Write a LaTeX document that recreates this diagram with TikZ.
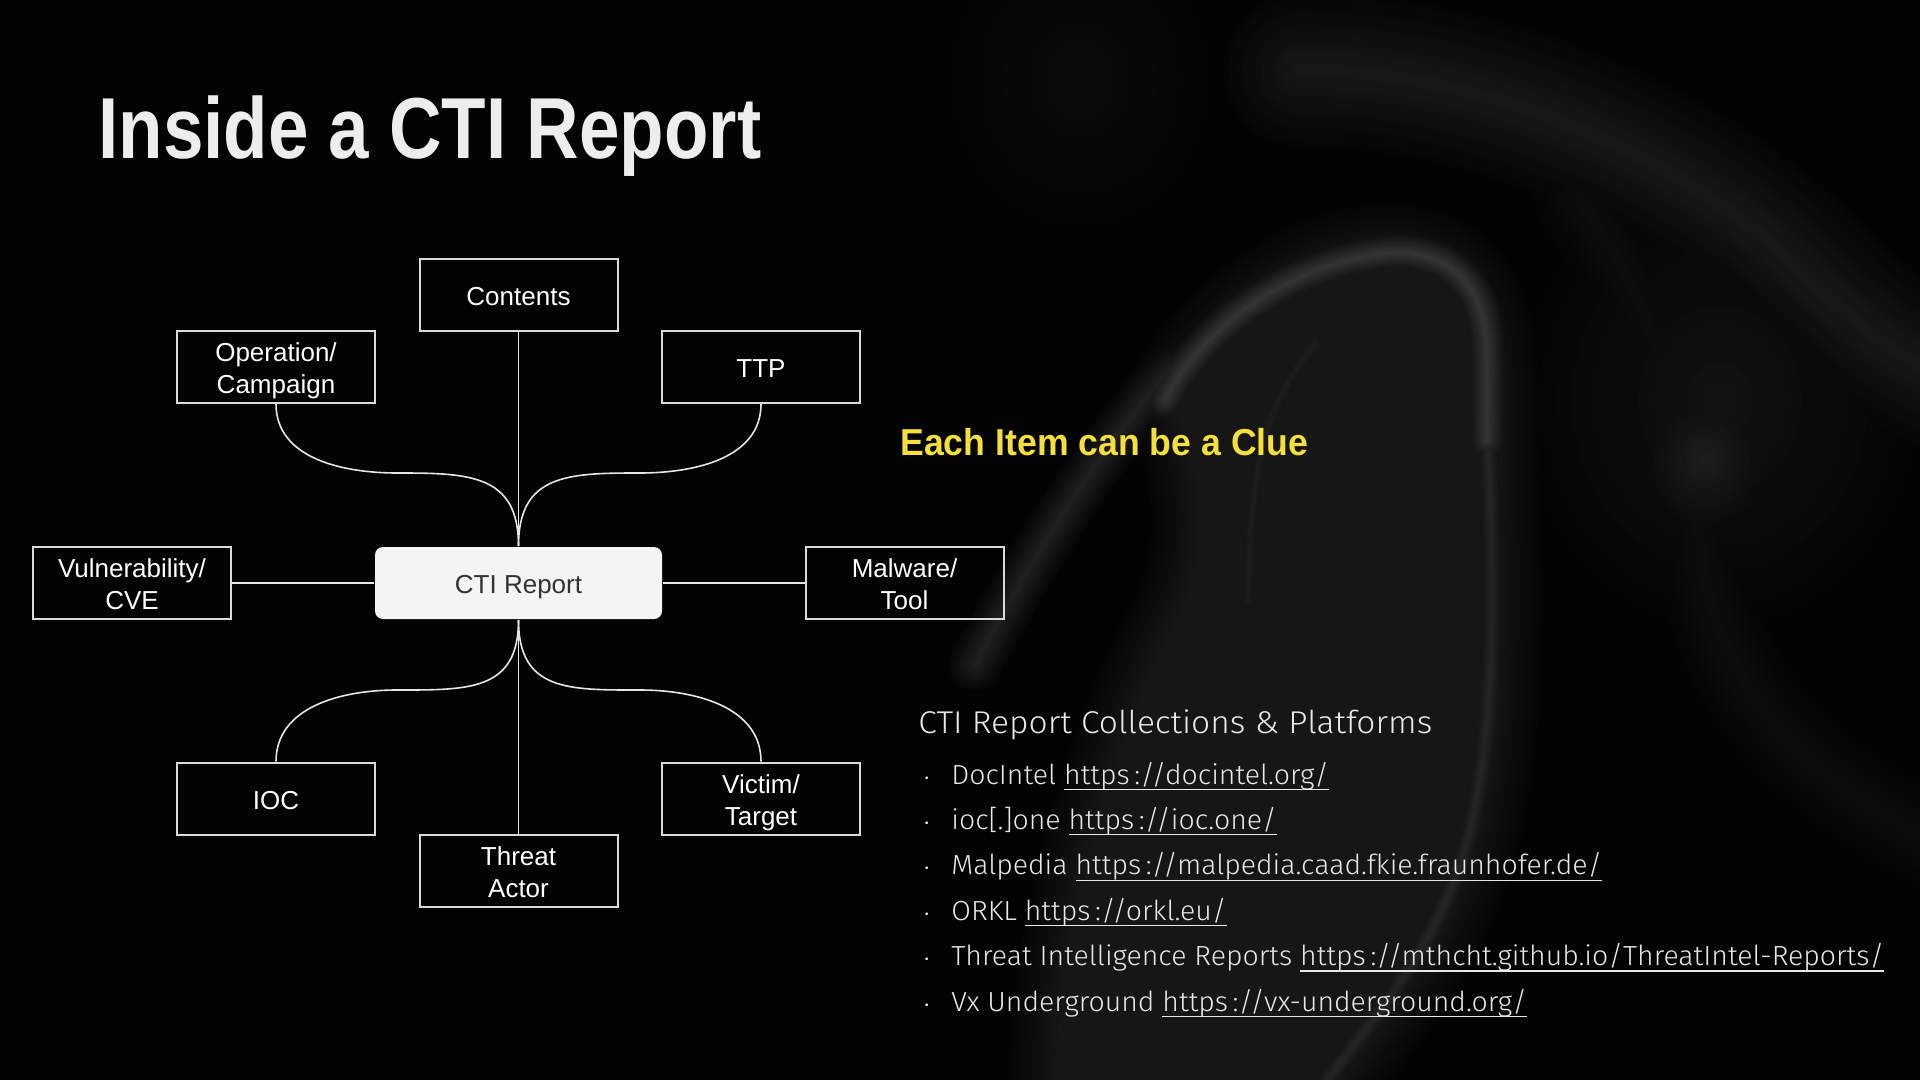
\documentclass[tikz,border=0pt]{standalone}
\usepackage{fontspec}
\setmainfont{Liberation Sans}
\newfontfamily\titlefont{Liberation Sans}[FakeStretch=0.84]
\newfontfamily\cluefont{Liberation Sans}[FakeStretch=0.95]
\newfontfamily\lightfont{Fira Sans Light}[FakeStretch=1.03]
\newfontfamily\headfont{Fira Sans Light}[FakeStretch=1.065]
\definecolor{bg}{HTML}{030303}
\definecolor{boxline}{HTML}{DADADA}
\definecolor{linecol}{HTML}{E6E6E6}
\definecolor{ctifill}{HTML}{F4F4F4}
\definecolor{ctitext}{HTML}{333333}
\definecolor{titlecol}{HTML}{EDEDED}
\definecolor{cluecol}{HTML}{F4DF3B}
\definecolor{listcol}{HTML}{E8E8E8}
\definecolor{colfill}{gray}{0.085}
\newcommand\ulnk[1]{\setbox0\hbox{#1}\rlap{\rule[-3pt]{\wd0}{0.6pt}}\box0}
\newcommand\ts{\rule{0pt}{13.5pt}}
\newcommand\bs{\rule[-3pt]{0pt}{3pt}}
% soft smoke stroke: #1 peak grey, #2 width in px, #3 path
\newcommand\smk[3]{\foreach \i in {1,...,14}{\pgfmathsetmacro\smkw{#2*(15-\i)/28}\pgfmathsetmacro\smkg{#1*\i/14}\definecolor{smkc}{gray}{\smkg}\draw[smkc,line width=\smkw pt,line cap=round,line join=round] #3;}}
% soft glow: #1 centre, #2 radius px, #3 peak grey
\newcommand\glow[3]{\foreach \i in {1,...,14}{\pgfmathsetmacro\glwr{#2*(15-\i)/14}\pgfmathsetmacro\glwg{#3*\i/14}\definecolor{smkc}{gray}{\glwg}\fill[smkc] #1 ellipse ({\glwr} and {\glwr*1.15});}}
\newcommand\bul{\llap{{\fontsize{9}{9}\selectfont •}\hspace{11pt}}}
\begin{document}
\begin{tikzpicture}[x=0.5pt,y=0.5pt,
  box/.style={draw=boxline,line width=1pt,minimum width=99pt,minimum height=36pt,inner sep=0pt,align=center,text=white,font=\fontsize{13}{16}\selectfont},
  ctibox/.style={box,draw=none,fill=ctifill,rounded corners=4pt,minimum width=143.5pt,text=ctitext},
  link/.style={draw=linecol,line width=0.8pt},
  item/.style={anchor=base west,inner sep=0pt,text=listcol,font=\lightfont\fontsize{13.8}{16}\selectfont}]
\useasboundingbox (0,0) rectangle (1920,-1080);
\fill[bg] (0,0) rectangle (1920,-1080);
% smoke
\begin{scope}[blend mode=lighten]
\clip (0,0) rectangle (1920,-1080);
\glow{(1720,-400)}{230}{0.07}
\glow{(1705,-459)}{90}{0.11}
\glow{(1080,-80)}{180}{0.04}
% column of smoke under the hood
\def\colpath{(1175,-400) .. controls (1230,-300) and (1330,-250) .. (1400,-255) .. controls (1470,-262) and (1488,-320) .. (1488,-400) .. controls (1490,-560) and (1500,-700) .. (1470,-830) .. controls (1440,-950) and (1370,-1020) .. (1330,-1080) -- (1060,-1080) .. controls (1060,-950) and (1110,-750) .. (1180,-620) .. controls (1220,-540) and (1200,-460) .. cycle}
\smk{0.085}{120}{\colpath}
\fill[colfill] \colpath;
\smk{0.2}{50}{(1165,-400) .. controls (1200,-330) and (1290,-262) .. (1390,-253) .. controls (1450,-250) and (1482,-285) .. (1486,-340) .. controls (1488,-380) and (1487,-410) .. (1487,-440)}
\smk{0.14}{40}{(1487,-420) .. controls (1492,-550) and (1500,-700) .. (1470,-830) .. controls (1440,-950) and (1370,-1020) .. (1320,-1090)}
\smk{0.11}{40}{(1315,-344) .. controls (1270,-400) and (1250,-450) .. (1248,-600)}
\smk{0.12}{60}{(1170,-370) .. controls (1100,-450) and (1030,-560) .. (975,-665)}
\smk{0.09}{180}{(1300,-70) .. controls (1500,-70) and (1700,-170) .. (1800,-270) .. controls (1850,-320) and (1900,-360) .. (1950,-380)}
\smk{0.05}{120}{(1580,-200) .. controls (1650,-300) and (1690,-420) .. (1700,-540) .. controls (1710,-650) and (1760,-760) .. (1950,-850)}
\end{scope}
% title
\node[anchor=base west,inner sep=0pt,text=titlecol,font=\titlefont\bfseries\fontsize{43.3}{50}\selectfont] (title) at (98,-159) {Inside a CTI Report};
% diagram
\node[box] (contents) at (518.5,-295.5) {\ts Contents\bs};
\node[box] (op) at (276,-367) {\ts Operation/\\Campaign\bs};
\node[box] (ttp) at (761,-367) {\ts TTP\bs};
\node[ctibox] (cti) at (518.5,-583) {\ts CTI Report\bs};
\node[box] (vuln) at (132,-583) {\ts Vulnerability/\\CVE\bs};
\node[box] (mal) at (904.5,-583) {\ts Malware/\\Tool\bs};
\node[box] (ioc) at (276,-798.5) {\ts IOC\bs};
\node[box] (vic) at (761,-798.5) {\ts Victim/\\Target\bs};
\node[box] (ta) at (518.5,-870.5) {\ts Threat\\Actor\bs};
\coordinate (ul) at (397,-473);
\coordinate (ur) at (640,-473);
\coordinate (ll) at (397,-690);
\coordinate (lr) at (640,-690);
\draw[link] (contents.south) -- (cti.north);
\draw[link] (cti.south) -- (ta.north);
\draw[link] (vuln.east) -- (cti.west);
\draw[link] (cti.east) -- (mal.west);
\draw[link] (op.south) to[out=-90,in=180] (ul) to[out=0,in=90,looseness=1.3] (cti.north);
\draw[link] (ttp.south) to[out=-90,in=0] (ur) to[out=180,in=90,looseness=1.3] (cti.north);
\draw[link] (cti.south) to[out=-90,in=0,looseness=1.3] (ll) to[out=180,in=90] (ioc.north);
\draw[link] (cti.south) to[out=-90,in=180,looseness=1.3] (lr) to[out=0,in=90] (vic.north);
% right texts
\node[anchor=base west,inner sep=0pt,text=cluecol,font=\cluefont\bfseries\fontsize{18.75}{22}\selectfont] (clue) at (900,-455) {Each Item can be a Clue};
\node[anchor=base west,inner sep=0pt,text=listcol,font=\headfont\fontsize{15.75}{18}\selectfont] (head) at (918,-733.3) {CTI Report Collections \& Platforms};
\node[item] (i1) at (951,-784) {\bul DocIntel \ulnk{https\,://docintel.org/}};
\node[item] (i2) at (951,-829.4) {\bul ioc[.]one \ulnk{https\,://ioc.one/}};
\node[item] (i3) at (951,-874.8) {\bul Malpedia \ulnk{https\,://malpedia.caad.fkie.fraunhofer.de/}};
\node[item] (i4) at (951,-920.2) {\bul ORKL \ulnk{https\,://orkl.eu/}};
\node[item] (i5) at (951,-965.6) {\bul Threat Intelligence Reports \ulnk{https\,://mthcht.github.io/ThreatIntel-Reports/}};
\node[item] (i6) at (951,-1011) {\bul Vx Underground \ulnk{https\,://vx-underground.org/}};
\end{tikzpicture}
\end{document}
